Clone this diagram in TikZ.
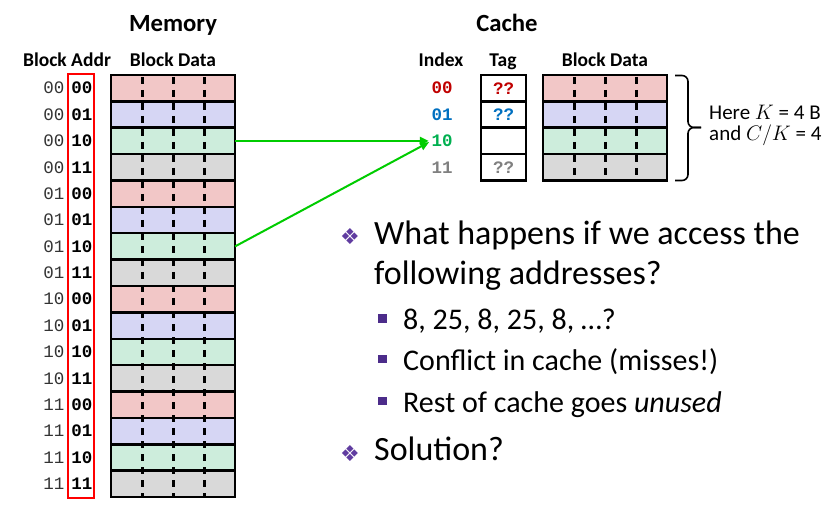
\RequirePackage{fix-cm}
\documentclass[tikz,border=0pt]{standalone}
\usepackage{fontspec}
\setmainfont{Carlito}
\setmonofont{Liberation Mono}
\newfontfamily\symfont{DejaVu Sans}
\usetikzlibrary{arrows.meta}
\definecolor{rpink}{RGB}{242,199,199}
\definecolor{rlav}{RGB}{214,214,244}
\definecolor{rmint}{RGB}{205,237,220}
\definecolor{rgray}{RGB}{217,217,217}
\definecolor{ired}{RGB}{192,0,0}
\definecolor{iblue}{RGB}{0,112,192}
\definecolor{igreen}{RGB}{0,176,80}
\definecolor{igray}{RGB}{128,128,128}
\definecolor{arrgreen}{RGB}{0,204,0}
\definecolor{bpurple}{RGB}{96,60,160}
\definecolor{spurple}{RGB}{76,44,138}
\definecolor{addrred}{RGB}{255,0,0}
\begin{document}
\begin{tikzpicture}[x=1pt,y=-1pt,
  rowbox/.style={draw=black, line width=2.5pt, minimum width=124pt, minimum height=26.375pt, inner sep=0pt, outer sep=0pt},
  tagbox/.style={draw=black, line width=2.5pt, fill=white, minimum width=45pt, minimum height=26.375pt, inner sep=0pt, outer sep=0pt},
  dashcol/.style={line width=3pt, dash pattern=on 7pt off 6pt, dash phase=-2pt},
  hdr/.style={font=\bfseries\fontsize{19.5}{22}\selectfont, inner sep=0pt, anchor=base},
  ttl/.style={font=\bfseries\fontsize{24.7}{28}\selectfont, inner sep=0pt, anchor=base},
  lobits/.style={font=\ttfamily\fontsize{17.5}{18}\selectfont, text=black!80, inner sep=0pt},
  hibits/.style={font=\ttfamily\bfseries\fontsize{17.5}{18}\selectfont, inner sep=0pt},
  maintext/.style={font=\fontsize{34}{40}\selectfont, anchor=base west, inner sep=0pt},
  subtext/.style={font=\fontsize{30}{34}\selectfont, anchor=base west, inner sep=0pt},
  dbullet/.style={font=\symfont\fontsize{22}{22}\selectfont, text=bpurple, inner sep=0pt},
  sbullet/.style={fill=spurple, minimum size=8.5pt, inner sep=0pt},
  link/.style={draw=arrgreen, line width=2pt, -{Triangle[length=9pt,width=8pt]}, shorten >=2.5pt},
]
\useasboundingbox (0,0) rectangle (833,505);
\fill[white] (0,0) rectangle (833,505);

% headings
\node[ttl] (memt) at (173,32) {Memory};
\node[ttl] (cacht) at (507,32) {Cache};
\node[hdr] (baddr) at (67,67) {Block Addr};
\node[hdr] (bdata) at (173,67) {Block Data};
\node[hdr] (idxh) at (441,67) {Index};
\node[hdr] (tagh) at (503,67) {Tag};
\node[hdr] (cbdata) at (605,67) {Block Data};

% memory
\foreach \i/\hb/\lb/\cc in {0/00/00/rpink, 1/00/01/rlav, 2/00/10/rmint, 3/00/11/rgray,
  4/01/00/rpink, 5/01/01/rlav, 6/01/10/rmint, 7/01/11/rgray,
  8/10/00/rpink, 9/10/01/rlav, 10/10/10/rmint, 11/10/11/rgray,
  12/11/00/rpink, 13/11/01/rlav, 14/11/10/rmint, 15/11/11/rgray} {
  \node[rowbox, fill=\cc] (m\i) at (173,{75+26.375*(\i+0.5)}) {};
  \node[lobits] (lo\i) at (54,{75+26.375*(\i+0.5)}) {\hb};
  \node[hibits] (hi\i) at (82,{75+26.375*(\i+0.5)}) {\lb};
}
\foreach \x in {142,173,204} \draw[dashcol] (\x,75) -- (\x,497);
\node[draw=addrred, line width=2pt, minimum width=26pt, minimum height=423pt, inner sep=0pt] (addrbox) at (81,286) {};

% cache
\foreach \i/\cc/\ic/\lab/\tg in {0/rpink/ired/00/??, 1/rlav/iblue/01/??, 2/rmint/igreen/10/{}, 3/rgray/igray/11/??} {
  \node[rowbox, fill=\cc] (c\i) at (605,{75+26.375*(\i+0.5)}) {};
  \node[tagbox] (tag\i) at (503.5,{75+26.375*(\i+0.5)}) {};
  \node[hibits, text=\ic] (tg\i) at (503.5,{75+26.375*(\i+0.5)}) {\tg};
  \node[hibits, text=\ic] (idx\i) at (442,{75+26.375*(\i+0.5)}) {\lab};
}
\foreach \x in {574,605,636} \draw[dashcol] (\x,75) -- (\x,181);

% arrows
\draw[link] (m2.east) -- (idx2.west);
\draw[link] (m6.east) -- (idx2.west);

% brace and note
\coordinate (brtip) at (701,127.5);
\draw[line width=1.6pt, rounded corners=6pt] (675,75.5) -- (688,75.5) -- (688,127.5) -- (brtip);
\draw[line width=1.6pt, rounded corners=6pt] (675,180.5) -- (688,180.5) -- (688,127.5) -- (brtip);
\node[anchor=west, align=left, font=\fontsize{21}{21}\selectfont, inner sep=0pt] (note) at (709,125) {Here $K$ = 4 B\\and $C/K$ = 4};

% bullets
\node[dbullet] (d1) at (350,237) {❖};
\node[maintext] (t1) at (374,244.5) {What happens if we access the};
\node[maintext] (t2) at (374,284) {following addresses?};
\node[sbullet] (s1) at (382.5,318.5) {};
\node[subtext] (u1) at (403,329) {8, 25, 8, 25, 8, …?};
\node[sbullet] (s2) at (382.5,359) {};
\node[subtext] (u2) at (403,370) {Conflict in cache (misses!)};
\node[sbullet] (s3) at (382.5,401) {};
\node[subtext] (u3) at (403,412) {Rest of cache goes \textit{unused}};
\node[dbullet] (d2) at (350,454) {❖};
\node[maintext] (t3) at (374,460) {Solution?};
\end{tikzpicture}
\end{document}
